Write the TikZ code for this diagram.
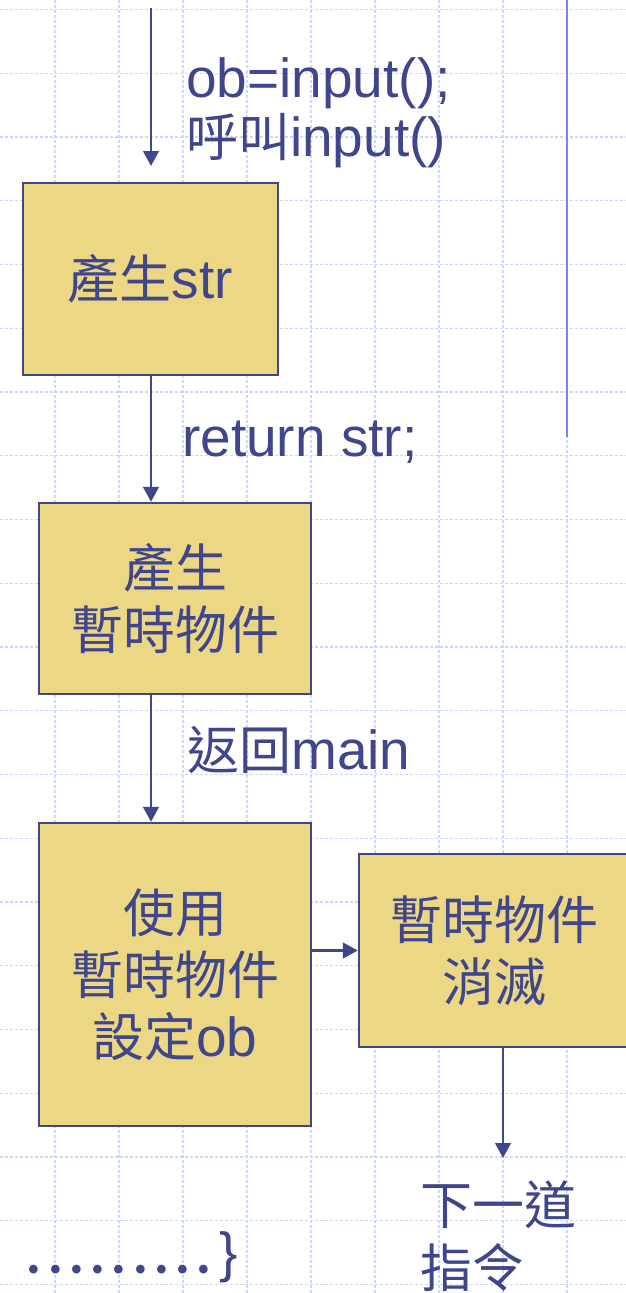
\documentclass[tikz,border=0pt]{standalone}
\usepackage{fontspec}
\setmainfont{Liberation Sans}
\newfontfamily\cjk{Noto Sans CJK TC}
\newfontfamily\dotfont{Poppins}
\usetikzlibrary{arrows.meta}
\definecolor{ink}{RGB}{64,70,140}
\definecolor{boxfill}{RGB}{235,215,132}
\definecolor{gridc}{RGB}{205,215,250}
\definecolor{vline}{RGB}{112,136,240}
\newcommand\cj[1]{{\fontsize{52}{62}\cjk #1}}
\newcommand\latinfont{\fontsize{55}{62}\selectfont}
\newcommand\dt{\makebox[21.25pt]{.}}
\begin{document}
\begin{tikzpicture}[x=1pt,y=-1pt,
  gridline/.style={draw=gridc, line width=1.1pt, dash pattern=on 3pt off 2pt},
  flowbox/.style={draw=ink, line width=2.3pt, fill=boxfill, text=ink, align=center, inner sep=0pt, font=\latinfont},
  arr/.style={draw=ink, line width=2.7pt, -{Triangle[length=15pt,width=15.5pt]}},
  lbl/.style={text=ink, inner sep=0pt, font=\latinfont}]
\useasboundingbox (0,0) rectangle (626,1293);
\fill[white] (0,0) rectangle (626,1293);
% grid
\foreach \i in {0,...,8} \draw[gridline] (55+64*\i,0) -- (55+64*\i,1293);
\foreach \j in {0,...,20} \draw[gridline] (0,9.5+63.75*\j) -- (626,9.5+63.75*\j);
% solid vertical line
\draw[vline, line width=2pt] (567,0) -- (567,437);
% boxes
\node[flowbox, minimum width=255pt, minimum height=192pt] (b1) at (150.5,279) {\cj{產生}str};
\node[flowbox, minimum width=272pt, minimum height=191pt] (b2) at (175,598.5) {\cj{產生}\\\cj{暫時物件}};
\node[flowbox, minimum width=272pt, minimum height=303pt] (b3) at (175,974.5) {\cj{使用}\\\cj{暫時物件}\\\cj{設定}ob};
\node[flowbox, minimum width=270pt, minimum height=193pt] (b4) at (494,950.5) {\cj{暫時物件}\\\cj{消滅}};
% arrows
\coordinate (a1s) at (151,8);
\coordinate (a1e) at (151,166);
\coordinate (col) at (151,0);
\coordinate (a5e) at (503,1158);
\draw[arr] (a1s) -- (a1e);
\draw[arr] (col |- b1.south) -- (col |- b2.north);
\draw[arr] (col |- b2.south) -- (col |- b3.north);
\draw[arr] (b3.east |- b4.west) -- (b4.west);
\draw[arr] (a5e |- b4.south) -- (a5e);
% labels
\node[lbl, anchor=base west] (l1) at (186,97) {ob=input();};
\node[lbl, anchor=base west] (l2) at (186,156) {\cj{呼叫}input()};
\node[lbl, anchor=base west] (l3) at (182,456) {return str;};
\node[lbl, anchor=base west] (l4) at (187,769) {\cj{返回}main};
\node[lbl, anchor=west] (l5) at (420,1205) {\cj{下一道}};
\node[lbl, anchor=west] (l6) at (420,1268) {\cj{指令}};
\node[lbl, anchor=base west, font=\fontsize{70}{70}\dotfont] (dots) at (23.4,1273.5) {\dt\dt\dt\dt\dt\dt\dt\dt\dt};
\node[lbl, anchor=base west] (brace) at (219,1271) {\}};
\end{tikzpicture}
\end{document}
